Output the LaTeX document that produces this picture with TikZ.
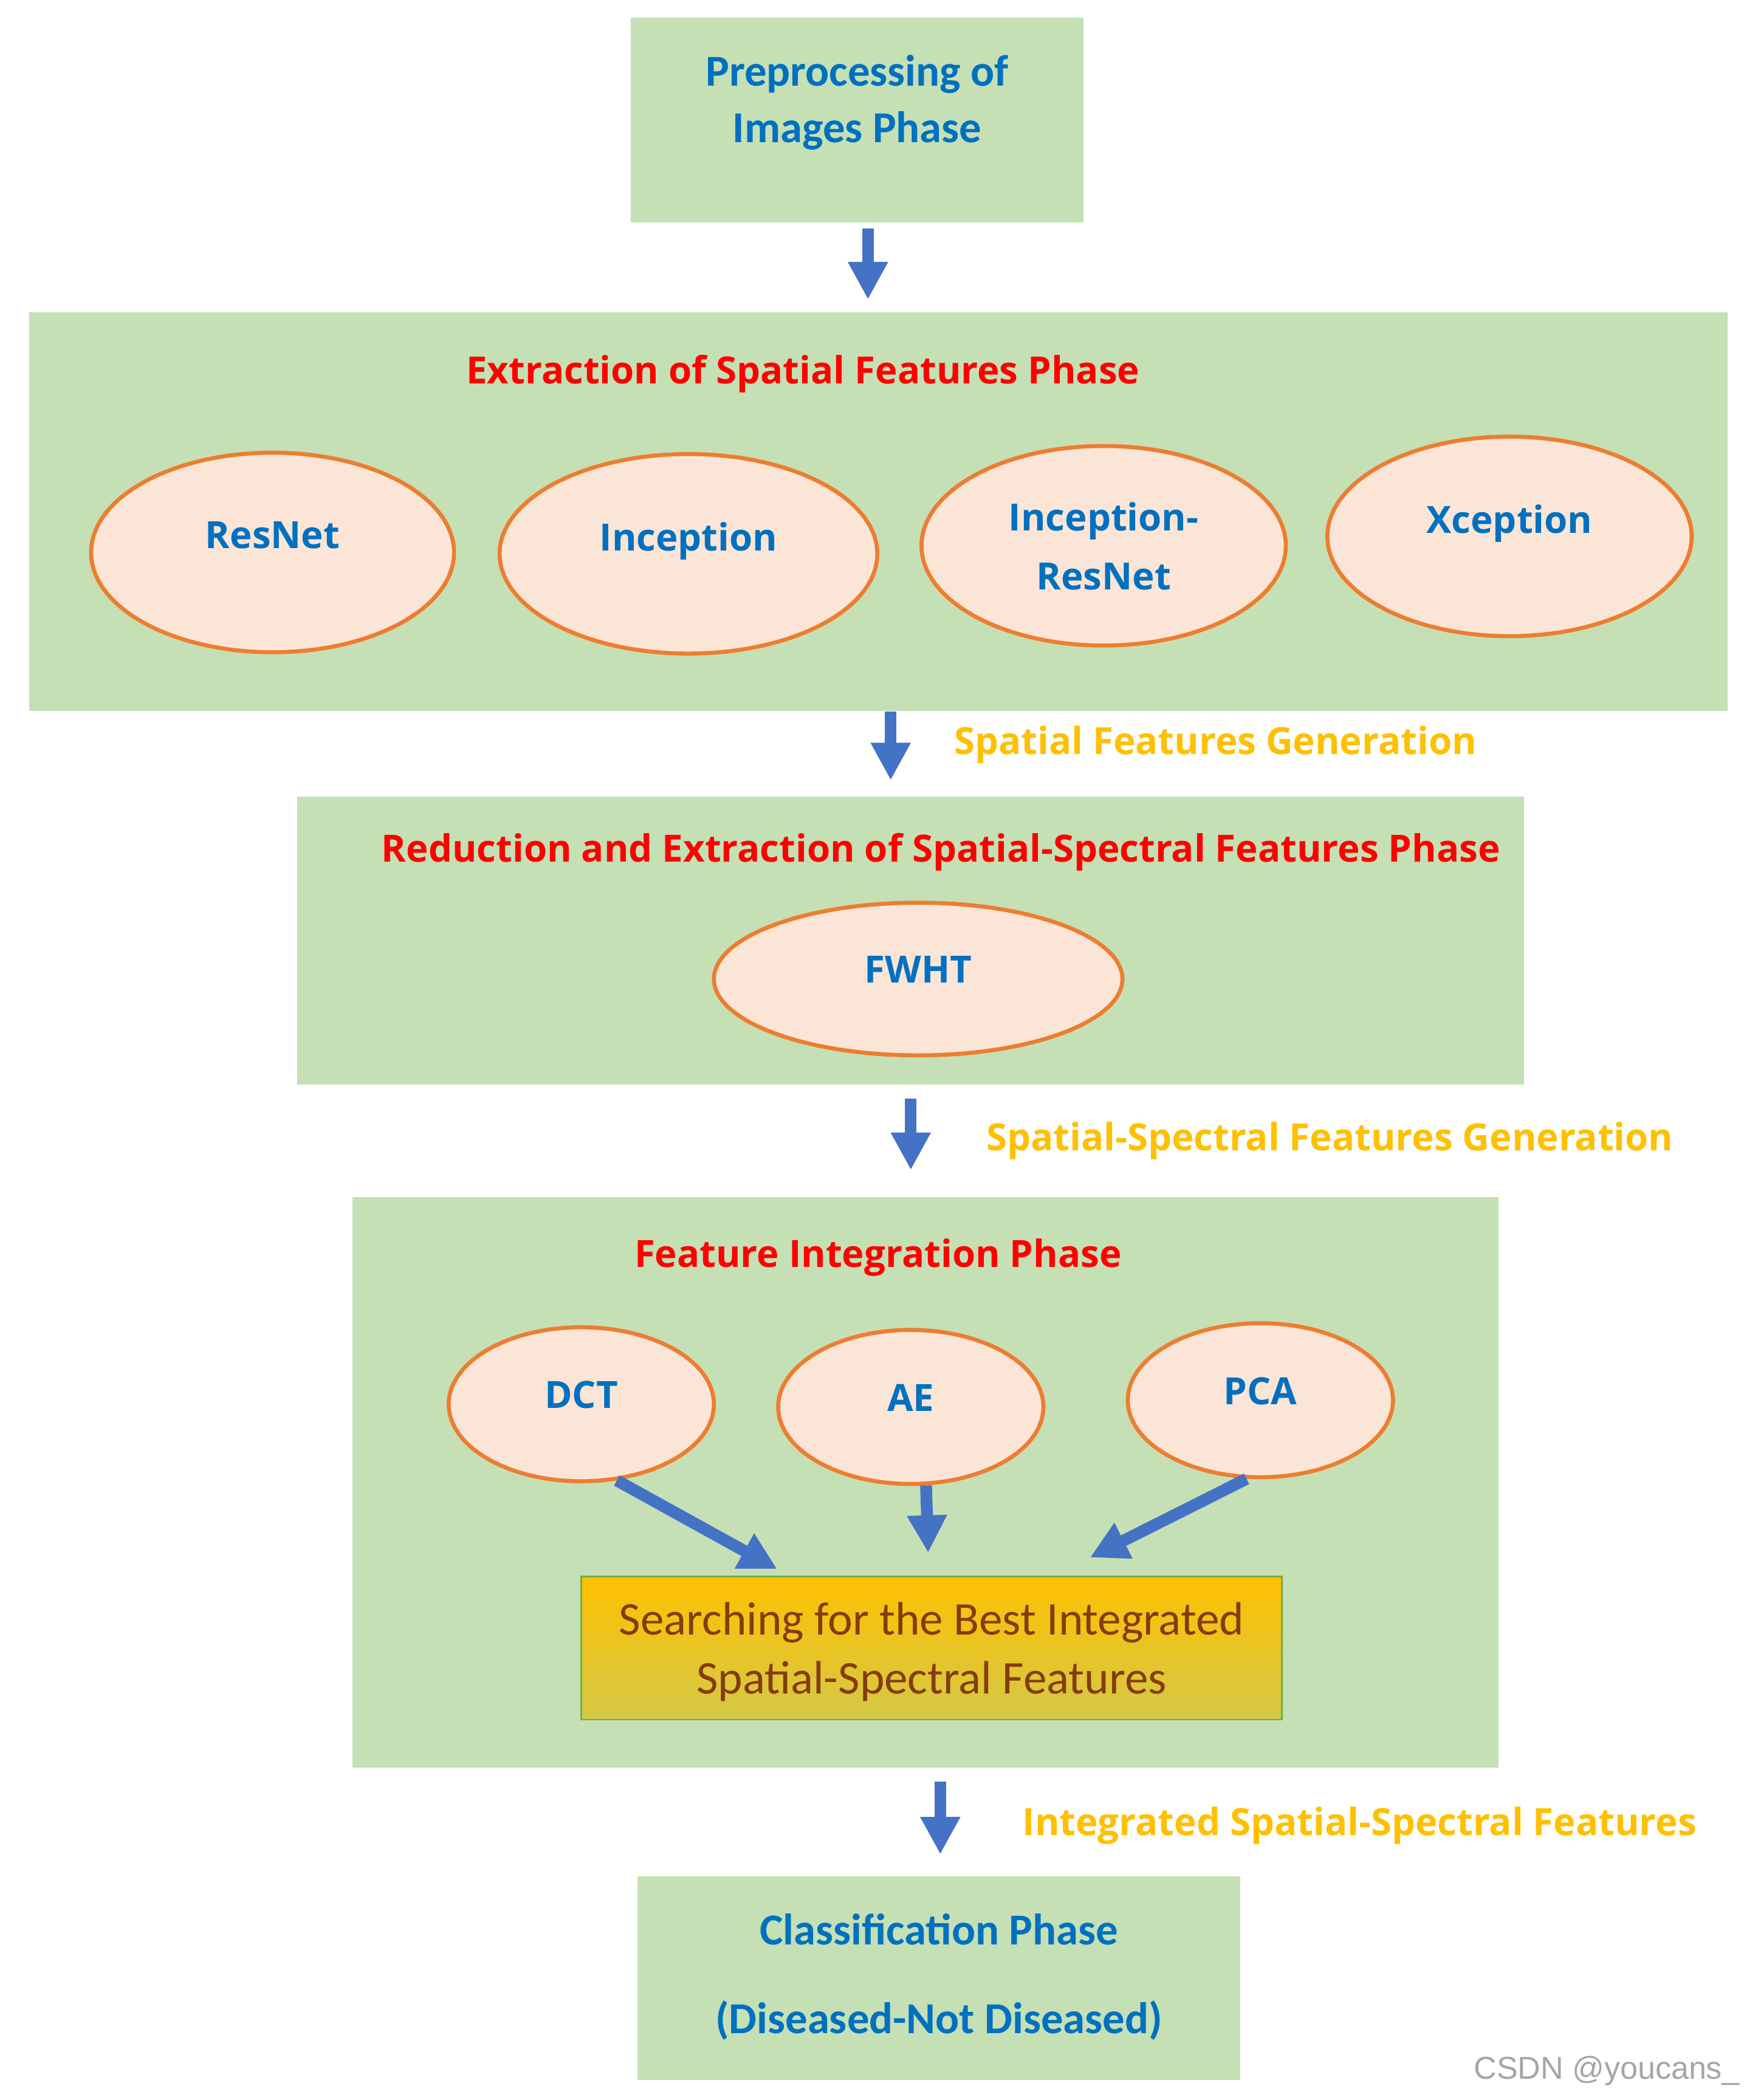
\documentclass[tikz,border=0pt]{standalone}
\usepackage{fontspec}
\newfontfamily\carlito{Carlito}
\newfontfamily\osans{Open Sans}
\newfontfamily\lsans{Liberation Sans}
\usetikzlibrary{arrows.meta}
\usetikzlibrary{shapes.geometric}
\definecolor{phasegreen}{HTML}{C5E0B4}
\definecolor{ovalfill}{HTML}{FBE5D6}
\definecolor{ovalline}{HTML}{ED7D31}
\definecolor{titleblue}{HTML}{0070C0}
\definecolor{genorange}{HTML}{FFC000}
\definecolor{flowblue}{HTML}{4472C4}
\definecolor{searchtop}{HTML}{FFC000}
\definecolor{searchbot}{HTML}{D3C847}
\definecolor{searchedge}{HTML}{70AD47}
\definecolor{searchtext}{HTML}{843C0C}
\tikzset{phase/.style={fill=phasegreen, inner sep=0pt},
  oval/.style={ellipse, draw=ovalline, line width=1.5pt, fill=ovalfill, inner sep=0pt,
    text=titleblue, align=center, font=\osans\bfseries\fontsize{14}{22}\selectfont},
  redtitle/.style={text=red, font=\osans\bfseries\fontsize{14}{18}\selectfont},
  gentext/.style={text=genorange, anchor=west, inner sep=0pt, font=\osans\bfseries\fontsize{14}{18}\selectfont},
  bluetitle/.style={text=titleblue, align=center, font=\carlito\bfseries\fontsize{16.5}{21}\selectfont},
  flow/.style={draw=flowblue, line width=4.4pt, -{Triangle[width=14pt,length=14pt]}}}

\begin{document}
\begin{tikzpicture}[x=0.5pt, y=-0.5pt]
  \fill[white] (0,0) rectangle (1310,1568);
  \useasboundingbox (0,0) rectangle (1310,1568);

  \node[phase, minimum width=169pt, minimum height=76.5pt] (pre) at (640,89.5) {};
  \node[bluetitle] (pretxt) at (640,76.5) {Preprocessing of\\Images Phase};

  \node[phase, minimum width=634pt, minimum height=149pt] (ext) at (656,382) {};
  \node[redtitle] (exttxt) at (599.5,279) {Extraction of Spatial Features Phase};
  \node[oval, minimum width=135.5pt, minimum height=74.5pt, text depth=13pt] (resnet) at (203.5,412.5) {ResNet};
  \node[oval, minimum width=141pt, minimum height=74.5pt, text depth=13pt] (incep) at (514,413.5) {Inception};
  \node[oval, minimum width=136pt, minimum height=74.5pt, text depth=-3pt] (incres) at (824,407.5) {Inception-\\ResNet};
  \node[oval, minimum width=136pt, minimum height=74.5pt, text depth=13pt] (xcep) at (1127,400.5) {Xception};

  \node[phase, minimum width=458pt, minimum height=107.5pt] (red) at (680,702.5) {};
  \node[redtitle] (redtxt) at (702.5,636) {Reduction and Extraction of Spatial-Spectral Features Phase};
  \node[oval, minimum width=152.5pt, minimum height=57pt, text depth=7pt] (fwht) at (685.5,731) {FWHT};

  \node[phase, minimum width=428pt, minimum height=213pt] (fus) at (691,1107) {};
  \node[redtitle] (fustxt) at (655.5,939) {Feature Integration Phase};
  \node[oval, minimum width=99pt, minimum height=57.5pt, text depth=7pt] (dct) at (434,1048.5) {DCT};
  \node[oval, minimum width=99pt, minimum height=57.5pt, text depth=7pt] (ae) at (680,1050.5) {AE};
  \node[oval, minimum width=99pt, minimum height=57.5pt, text depth=7pt] (pca) at (941,1045.5) {PCA};
  \node[top color=searchtop, bottom color=searchbot, draw=searchedge, line width=0.6pt,
    minimum width=261.5pt, minimum height=53.5pt, inner sep=0pt, align=center, text=searchtext,
    text depth=0pt, font=\carlito\fontsize{17.5}{22}\selectfont] (search) at (695.5,1230.5)
    {Searching for the Best Integrated\\Spatial-Spectral Features};

  \node[phase, minimum width=225pt, minimum height=76pt] (cls) at (701,1477) {};
  \node[bluetitle, font=\carlito\bfseries\fontsize{16.5}{33}\selectfont] (clstxt) at (701,1476)
    {Classification Phase\\(Diseased-Not Diseased)};

  \coordinate (a1) at ([xshift=4pt]pre.south);
  \coordinate (a2) at ([xshift=4.5pt]ext.south);
  \coordinate (a3) at (red.south);
  \coordinate (a4) at ([xshift=5.5pt]fus.south);
  \draw[flow, shorten <=2pt, shorten >=4.5pt] (a1) -- (a1 |- ext.north);
  \draw[flow, shorten >=6pt] (a2) -- (a2 |- red.north);
  \draw[flow, shorten <=5pt, shorten >=10pt] (a3) -- (a3 |- fus.north);
  \draw[flow, shorten <=5pt, shorten >=8pt] (a4) -- (a4 |- cls.north);

  \node[gentext] (gen1) at (712,556) {Spatial Features Generation};
  \node[gentext] (gen2) at (736,852) {Spatial-Spectral Features Generation};
  \node[gentext] (gen3) at (763,1363) {Integrated Spatial-Spectral Features};

  \draw[flow, shorten >=5pt] (dct.-65) -- ([xshift=-53.25pt]search.north);
  \draw[flow, shorten >=8.5pt] (ae.-79) -- ([xshift=-1pt]search.north);
  \draw[flow, shorten >=15pt] (pca.-100) -- ([xshift=45.75pt]search.north);

  \node[text=black!35, anchor=east, font=\lsans\fontsize{11.8}{14}\selectfont] (mark) at (1306,1546) {CSDN @youcans\_};
\end{tikzpicture}
\end{document}
